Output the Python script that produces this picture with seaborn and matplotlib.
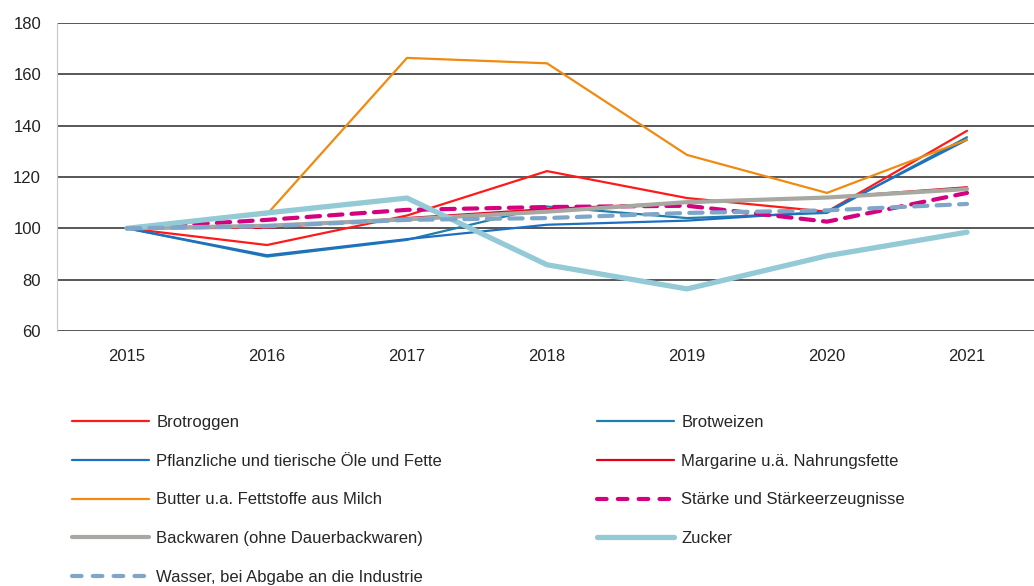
import numpy as np
import pandas as pd
import matplotlib
matplotlib.use("Agg")
import matplotlib.pyplot as plt
from matplotlib.lines import Line2D
import seaborn as sns

# --- Data (index 2015 = 100) ---
years = [2015, 2016, 2017, 2018, 2019, 2020, 2021]

brotroggen = [100, 93.5, 105.0, 122.3, 111.8, 106.5, 138.0]
brotweizen = [100, 89.0, 95.5, 108.5, 104.0, 106.0, 135.5]
pflanzliche_oele = [100, 89.5, 95.8, 101.4, 103.0, 106.5, 134.5]
margarine = [100, 100.2, 104.0, 107.5, 110.0, 112.0, 116.0]
butter = [100, 105.5, 166.4, 164.3, 128.6, 113.8, 134.5]
staerke = [100, 103.3, 107.2, 108.3, 108.8, 102.6, 113.8]
backwaren = [100, 101.0, 103.5, 106.5, 110.2, 112.0, 115.3]
zucker = [100, 106.0, 111.8, 85.8, 76.4, 89.3, 98.5]
wasser = [100, 100.8, 103.3, 104.0, 106.0, 107.0, 109.5]

labels = [
    "Brotroggen",
    "Brotweizen",
    "Pflanzliche und tierische Öle und Fette",
    "Margarine u.ä. Nahrungsfette",
    "Butter u.a. Fettstoffe aus Milch",
    "Stärke und Stärkeerzeugnisse",
    "Backwaren (ohne Dauerbackwaren)",
    "Zucker",
    "Wasser, bei Abgabe an die Industrie",
]
series = [brotroggen, brotweizen, pflanzliche_oele, margarine, butter,
          staerke, backwaren, zucker, wasser]

colors = ["#ff1a1a", "#1f7fa8", "#1f6fc0", "#e2001a", "#f08a10",
          "#d4007f", "#a8a8a2", "#93cad6", "#7fa6c8"]
widths = [1.6, 1.6, 1.6, 1.6, 1.6, 3.0, 3.0, 3.8, 3.0]
dashed = [False, False, False, False, False, True, False, False, True]

df = pd.DataFrame({"year": years * len(labels),
                   "value": sum(series, []),
                   "series": np.repeat(labels, len(years))})

# --- Plot ---
sns.set_theme(style="white")
plt.rcParams["font.family"] = ["Liberation Sans", "DejaVu Sans"]

fig = plt.figure(figsize=(10.34, 5.86), dpi=100)
W, H = 1034, 586
ax = fig.add_axes([57 / W, 1 - 331 / H, (1034 - 57) / W, 308 / H])

for lab, col, lw, dsh in zip(labels, colors, widths, dashed):
    sub = df[df["series"] == lab]
    line = sns.lineplot(data=sub, x="year", y="value", color=col, lw=lw,
                        ax=ax, legend=False).lines[-1]
    if dsh:
        line.set_dashes([3.2, 2.2])
        line.set_dash_capstyle("round")

ax.set_xlim(2014.5, 2014.5 + 977 / 140)
ax.set_ylim(60, 180)
ax.set_yticks(range(60, 181, 20))
ax.set_xticks(years)
ax.set_xlabel("")
ax.set_ylabel("")
ax.yaxis.grid(True, color="#2a2a2a", lw=1.1)
ax.set_axisbelow(True)
for s in ["top", "right", "bottom"]:
    ax.spines[s].set_visible(False)
ax.spines["left"].set_color("#c8c8c8")
ax.spines["left"].set_linewidth(0.8)
ax.tick_params(axis="both", length=0, labelsize=12, colors="#222222")
ax.tick_params(axis="x", pad=13)
ax.tick_params(axis="y", pad=11.5)

# --- Legend (two columns, row-wise order) ---
handles = []
for col, lw, dsh in zip(colors, widths, dashed):
    h = Line2D([], [], color=col, lw=lw, solid_capstyle="round",
               dash_capstyle="round")
    if dsh:
        h.set_dashes([2.3, 2.7])
    handles.append(h)

common = dict(frameon=False, fontsize=12, handlelength=4.6,
              handletextpad=0.45, labelspacing=1.42, borderpad=0,
              borderaxespad=0, loc="upper left")
fig.legend(handles[0::2], labels[0::2],
           bbox_to_anchor=(72 / W, 1 - 415 / H), **common)
fig.legend(handles[1::2], labels[1::2],
           bbox_to_anchor=(597 / W, 1 - 415 / H), **common)

fig.savefig("out.png", dpi=100)
